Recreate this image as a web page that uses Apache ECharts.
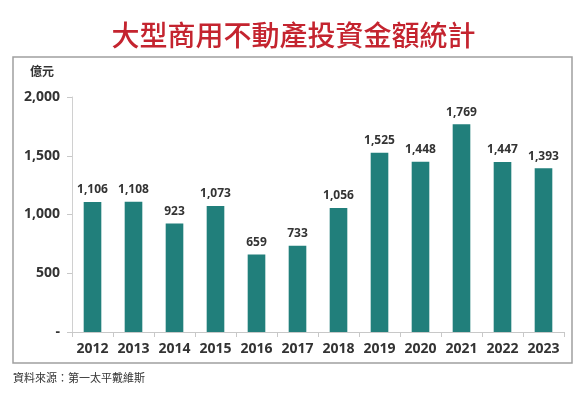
<!DOCTYPE html>
<html><head><meta charset="utf-8">
<script src="https://cdn.jsdelivr.net/npm/echarts@6/dist/echarts.min.js"></script>
<style>html,body{margin:0;padding:0;background:#fff}#c{width:587px;height:393px}</style>
</head><body><div id="c"></div>
<script>
const categories = ['2012','2013','2014','2015','2016','2017','2018','2019','2020','2021','2022','2023'];
const values = [1106,1108,923,1073,659,733,1056,1525,1448,1769,1447,1393];
const yTicks = [0,500,1000,1500,2000];
const title = '大型商用不動產投資金額統計';
const unit = '億元';
const source = '資料來源：第一太平戴維斯';

const chart = echarts.init(document.getElementById('c'), null, {renderer:'canvas'});
chart.setOption({
  animation:false,
  title:{text:title,left:'center',top:16,textStyle:{color:'#c4242f',fontSize:28,fontWeight:500,fontFamily:'"Noto Sans CJK TC"'}},
  graphic:[
    {type:'rect',shape:{x:13,y:57,width:559,height:306},style:{fill:'none',stroke:'#a0a0a0',lineWidth:1.5}},
    {type:'text',left:30,top:65,style:{text:unit,fill:'#333',font:'bold 12px "Noto Sans CJK TC"'}},
    {type:'text',left:13,top:372,style:{text:source,fill:'#333',font:'11px "Noto Sans CJK TC"'}}
  ],
  grid:{left:72,right:23,top:97,bottom:61},
  xAxis:{type:'category',data:categories,
    axisLine:{lineStyle:{color:'#c8c8c8'}},
    axisTick:{show:true,lineStyle:{color:'#c8c8c8'},length:5},
    axisLabel:{interval:0,color:'#333',fontSize:14,fontWeight:'bold',fontFamily:'"Open Sans"',margin:10}},
  yAxis:{type:'value',min:0,max:2000,interval:500,
    axisLine:{show:true,lineStyle:{color:'#d0d0d0'}},
    axisTick:{show:true,lineStyle:{color:'#c8c8c8'},length:5},
    splitLine:{show:false},
    axisLabel:{color:'#333',fontSize:14,fontWeight:'bold',fontFamily:'"Open Sans"',margin:12,
      formatter:v=>v===0?'-':v.toLocaleString('en-US')}},
  series:[{type:'bar',data:values,barWidth:'43%',itemStyle:{color:'#217f7b'},
    label:{show:true,position:'top',distance:6,color:'#333',fontSize:12,fontWeight:'bold',fontFamily:'"Open Sans"',
      formatter:p=>p.value.toLocaleString('en-US')}}]
});
</script></body></html>
